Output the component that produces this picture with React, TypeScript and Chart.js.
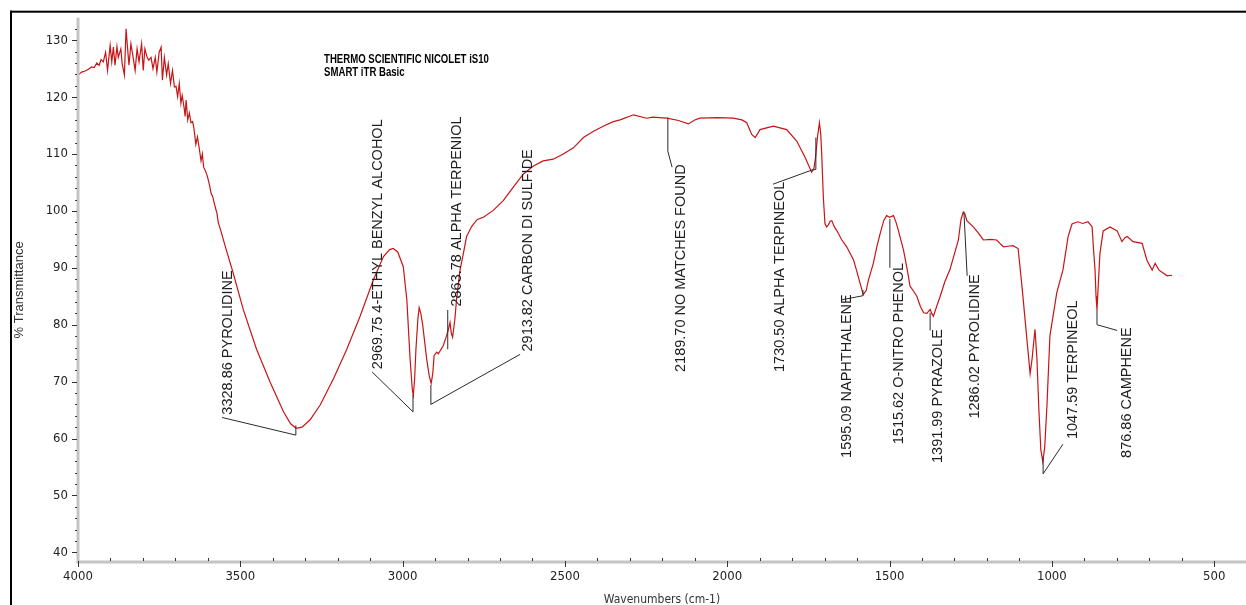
import React, { useEffect, useRef } from 'react';
import { Chart, registerables } from 'chart.js';

Chart.register(...registerables);

// ---- Spectrum data (wavenumber cm-1, % transmittance) ----
const wavenumbers = [
  4000, 3989, 3978, 3968, 3958, 3950, 3942, 3935, 3929, 3922,
  3915, 3909, 3901, 3896, 3891, 3886, 3880, 3876, 3868, 3864,
  3857, 3852, 3848, 3843, 3837, 3831, 3824, 3818, 3812, 3804,
  3799, 3794, 3787, 3782, 3775, 3769, 3762, 3757, 3750, 3744,
  3740, 3734, 3727, 3722, 3715, 3709, 3703, 3698, 3693, 3688,
  3683, 3679, 3673, 3670, 3667, 3662, 3657, 3652, 3647, 3643,
  3637, 3632, 3627, 3621, 3617, 3613, 3607, 3601, 3595, 3590,
  3585, 3580, 3572, 3568, 3560, 3545, 3522, 3491, 3450, 3408,
  3367, 3345, 3328, 3310, 3285, 3254, 3213, 3172, 3131, 3090,
  3059, 3040, 3029, 3015, 2998, 2987, 2977, 2970, 2967, 2963,
  2959, 2953, 2949, 2944, 2938, 2926, 2918, 2912, 2907, 2903,
  2895, 2890, 2875, 2865, 2859, 2854, 2850, 2846, 2839, 2834,
  2823, 2813, 2803, 2787, 2770, 2751, 2721, 2690, 2659, 2628,
  2597, 2567, 2536, 2505, 2474, 2443, 2412, 2382, 2351, 2330,
  2289, 2248, 2230, 2186, 2150, 2120, 2100, 2084, 2030, 1981,
  1955, 1940, 1925, 1914, 1899, 1858, 1817, 1786, 1760, 1740,
  1733, 1728, 1722, 1716, 1712, 1709, 1704, 1699, 1694, 1689,
  1683, 1678, 1670, 1663, 1647, 1632, 1611, 1600, 1591, 1581,
  1572, 1565, 1550, 1540, 1529, 1518, 1509, 1500, 1488, 1480,
  1473, 1457, 1445, 1437, 1425, 1416, 1405, 1395, 1385, 1375,
  1370, 1365, 1355, 1344, 1330, 1314, 1300, 1288, 1280, 1273,
  1268, 1262, 1242, 1225, 1211, 1190, 1170, 1160, 1149, 1135,
  1120, 1104, 1092, 1076, 1067, 1061, 1052, 1046, 1040, 1034,
  1028, 1022, 1015, 1006, 995, 985, 966, 950, 938, 920,
  905, 889, 880, 876, 872, 867, 864, 861, 858, 852,
  842, 821, 799, 784, 775, 768, 750, 722, 707, 691,
  682, 670, 657, 645, 630,
];

const transmittance = [
  123.9, 124.4, 124.6, 124.9, 125.3, 125.2, 126.0, 125.6, 126.6, 126.2,
  127.9, 124.7, 129.1, 126.2, 128.8, 125.6, 128.9, 127.0, 128.5, 125.9,
  123.9, 132.0, 129.1, 125.6, 129.4, 127.3, 124.7, 128.5, 126.2, 129.4,
  124.7, 128.5, 127.0, 126.5, 127.0, 125.0, 127.0, 124.4, 127.9, 128.8,
  123.0, 127.0, 123.9, 125.9, 122.4, 124.7, 121.8, 121.9, 120.1, 122.4,
  118.9, 120.3, 118.1, 116.6, 119.5, 116.0, 117.2, 115.5, 115.7, 114.6,
  111.7, 113.0, 111.2, 108.8, 110.0, 107.7, 107.0, 106.0, 104.6, 103.1,
  102.5, 101.3, 99.6, 98.0, 96.5, 93.5, 89.1, 82.7, 75.7, 69.9,
  64.7, 62.6, 61.8, 62.0, 63.3, 65.9, 70.5, 75.7, 81.5, 87.9,
  92.0, 93.2, 93.4, 92.8, 90.2, 84.4, 74.0, 68.5, 67.6, 70.5,
  75.7, 81.0, 83.0, 82.0, 79.9, 74.0, 71.0, 69.7, 71.5, 74.6,
  75.2, 74.9, 76.3, 78.0, 79.2, 80.4, 78.5, 77.8, 81.0, 84.4,
  89.7, 92.5, 95.5, 97.3, 98.5, 98.9, 100.1, 101.8, 104.2, 106.5,
  107.9, 108.8, 109.1, 110.0, 111.1, 112.9, 114.0, 114.9, 115.7, 116.0,
  116.9, 116.3, 116.5, 116.3, 115.9, 115.3, 116.0, 116.3, 116.4, 116.3,
  116.0, 115.5, 113.5, 112.9, 114.3, 114.9, 114.3, 112.3, 109.4, 106.8,
  107.5, 109.4, 113.0, 115.5, 113.5, 110.0, 102.4, 97.8, 97.2, 97.5,
  98.2, 98.3, 97.2, 96.6, 94.9, 93.7, 91.4, 89.2, 87.3, 85.3,
  86.0, 87.9, 90.8, 93.5, 96.0, 98.3, 99.2, 98.9, 99.2, 98.0,
  96.6, 93.1, 89.5, 86.8, 85.8, 85.0, 83.2, 82.1, 82.0, 82.7,
  82.0, 81.5, 83.2, 85.0, 87.5, 89.7, 92.5, 94.9, 98.5, 99.8,
  99.5, 98.3, 97.2, 96.0, 94.9, 95.0, 94.9, 94.3, 93.7, 93.8,
  93.9, 93.4, 86.7, 76.9, 71.4, 74.0, 79.2, 74.0, 65.0, 58.0,
  56.0, 58.5, 66.0, 78.1, 82.0, 85.6, 89.6, 95.5, 97.7, 98.1,
  97.8, 98.1, 97.5, 97.2, 93.5, 89.6, 85.0, 82.6, 86.0, 92.5,
  96.5, 97.2, 96.5, 94.6, 95.3, 95.5, 94.6, 94.3, 91.3, 89.6,
  90.8, 89.6, 89.1, 88.6, 88.7,
];

const xTickLabels = [4000, 3500, 3000, 2500, 2000, 1500, 1000, 500];
const yTickLabels = [40, 50, 60, 70, 80, 90, 100, 110, 120, 130];

// ---- Peak annotations ----
const peakLabels = [
  '3328.86 PYROLIDINE',
  '2969.75 4-ETHYL BENZYL ALCOHOL',
  '2863.78 ALPHA TERPENIOL',
  '2913.82 CARBON DI SULFIDE',
  '2189.70 NO MATCHES FOUND',
  '1730.50 ALPHA TERPINEOL',
  '1595.09 NAPHTHALENE',
  '1515.62 O-NITRO PHENOL',
  '1391.99 PYRAZOLE',
  '1286.02 PYROLIDINE',
  '1047.59 TERPINEOL',
  '876.86 CAMPHENE',
];
// label start point (wavenumber, %T)
const peakLabelX = [3538, 3076, 2833, 2614, 2144, 1837, 1631, 1472, 1351, 1237, 935, 769];
const peakLabelY = [64.2, 72.2, 83.2, 75.3, 71.7, 71.7, 56.6, 59.0, 55.7, 63.5, 59.9, 56.6];
// leader line vertices
const leaderX = [
  [3556, 3328.9, 3328.9],
  [3094, 2968, 2968],
  [2861, 2861],
  [2638, 2913, 2913],
  [2170, 2183, 2183],
  [1859, 1739, 1727, 1727],
  [1646, 1582, 1582],
  [1499, 1499],
  [1375, 1375],
  [1271, 1261],
  [966, 1027, 1027],
  [861, 861, 799],
];
const leaderY = [
  [63.7, 60.6, 62.3],
  [71.7, 64.7, 67.7],
  [82.6, 75.7],
  [74.8, 66.0, 69.4],
  [107.7, 110.5, 116.4],
  [104.7, 107.2, 107.3, 112.9],
  [84.4, 85.1, 86.1],
  [98.6, 90.0],
  [82.1, 79.0],
  [99.9, 88.6],
  [59.0, 53.8, 56.6],
  [82.6, 80.0, 79.0],
];

const headerLines = ['THERMO SCIENTIFIC NICOLET iS10', 'SMART iTR Basic'];
const headerX = 3242;
const headerY = [126.5, 124.3];

const NARROW = '"Liberation Sans Narrow", "Arial Narrow", "DejaVu Sans Condensed", "Liberation Sans", sans-serif';
const SANS = '"Liberation Sans", Arial, sans-serif';

const overlayPlugin = {
  id: 'overlay',
  afterDraw(chart: any) {
    const { ctx, chartArea } = chart;
    const xs = chart.scales.x;
    const ys = chart.scales.y;
    ctx.save();

    // frame
    ctx.fillStyle = '#000';
    ctx.fillRect(10, 10.7, 2, 600);
    ctx.fillRect(10, 10.7, 1240, 2);

    // axis lines
    ctx.strokeStyle = '#c4c4c4';
    ctx.lineWidth = 3;
    ctx.beginPath();
    ctx.moveTo(chartArea.left, chartArea.top);
    ctx.lineTo(chartArea.left, chartArea.bottom);
    ctx.lineTo(chartArea.right, chartArea.bottom);
    ctx.stroke();

    // ticks
    ctx.strokeStyle = '#333';
    ctx.lineWidth = 1;
    ctx.beginPath();
    for (let v = 40; v <= 132; v += 2) {
      const py = Math.round(ys.getPixelForValue(v)) + 0.5;
      const major = v % 10 === 0;
      ctx.moveTo(chartArea.left - (major ? 6 : 3), py);
      ctx.lineTo(chartArea.left - 1, py);
    }
    for (let v = 500; v <= 4000; v += 100) {
      const px = Math.round(xs.getPixelForValue(v)) + 0.5;
      const major = v % 500 === 0;
      if (major) {
        ctx.moveTo(px, chartArea.bottom - 1);
        ctx.lineTo(px, chartArea.bottom + 5);
      } else {
        ctx.moveTo(px, chartArea.bottom - 4);
        ctx.lineTo(px, chartArea.bottom - 1);
      }
    }
    ctx.stroke();

    // leader lines
    ctx.strokeStyle = '#2a2a2a';
    ctx.lineWidth = 1;
    for (let i = 0; i < leaderX.length; i++) {
      ctx.beginPath();
      for (let j = 0; j < leaderX[i].length; j++) {
        const px = xs.getPixelForValue(leaderX[i][j]);
        const py = ys.getPixelForValue(leaderY[i][j]);
        if (j === 0) ctx.moveTo(px, py);
        else ctx.lineTo(px, py);
      }
      ctx.stroke();
    }

    // peak labels
    ctx.fillStyle = '#1e1e1e';
    ctx.font = '14.5px ' + SANS;
    ctx.textAlign = 'left';
    ctx.textBaseline = 'middle';
    for (let i = 0; i < peakLabels.length; i++) {
      const px = xs.getPixelForValue(peakLabelX[i]);
      const py = ys.getPixelForValue(peakLabelY[i]);
      ctx.save();
      ctx.translate(px, py);
      ctx.rotate(-Math.PI / 2);
      ctx.fillText(peakLabels[i], 0, 0);
      ctx.restore();
    }

    // header
    ctx.fillStyle = '#000';
    ctx.font = 'bold 12px ' + SANS;
    for (let i = 0; i < headerLines.length; i++) {
      const px = xs.getPixelForValue(headerX);
      const py = ys.getPixelForValue(headerY[i]);
      ctx.save();
      ctx.translate(px, py);
      ctx.scale(0.8, 1);
      ctx.fillText(headerLines[i], 0, 0);
      ctx.restore();
    }

    ctx.restore();
  },
};

export default function App() {
  const canvasRef = useRef<HTMLCanvasElement | null>(null);

  useEffect(() => {
    if (!canvasRef.current) return;
    const points = wavenumbers.map((w, i) => ({ x: w, y: transmittance[i] }));
    const chart = new Chart(canvasRef.current, {
      type: 'line',
      data: {
        datasets: [
          {
            data: points,
            borderColor: '#c81414',
            borderWidth: 1.2,
            pointRadius: 0,
            tension: 0,
            fill: false,
          },
        ],
      },
      options: {
        animation: false,
        responsive: true,
        maintainAspectRatio: false,
        layout: { padding: { top: 12, left: 0, right: 0, bottom: 0 } },
        plugins: {
          legend: { display: false },
          tooltip: { enabled: false },
        },
        scales: {
          x: {
            type: 'linear',
            reverse: true,
            min: 402,
            max: 4000,
            offset: false,
            afterBuildTicks: (s: any) => {
              s.ticks = xTickLabels.map((v) => ({ value: v }));
            },
            afterFit: (s: any) => {
              s.height = 43;
            },
            grid: { display: false, drawTicks: false },
            border: { display: false },
            ticks: {
              autoSkip: false,
              maxRotation: 0,
              padding: 7,
              color: '#222',
              font: { family: NARROW, size: 13 },
              callback: (v: any) => String(v),
            },
            title: {
              display: true,
              text: 'Wavenumbers (cm-1)',
              color: '#333',
              font: { family: NARROW, size: 12 },
              padding: { top: 0, bottom: -2 },
            },
          },
          y: {
            type: 'linear',
            min: 38.3,
            max: 133.95,
            afterBuildTicks: (s: any) => {
              s.ticks = yTickLabels.map((v) => ({ value: v }));
            },
            afterFit: (s: any) => {
              s.width = 78;
            },
            grid: { display: false, drawTicks: false },
            border: { display: false },
            ticks: {
              autoSkip: false,
              padding: 10,
              color: '#222',
              font: { family: NARROW, size: 13 },
              callback: (v: any) => String(v),
            },
            title: {
              display: true,
              text: '% Transmittance',
              color: '#333',
              font: { family: SANS, size: 13 },
              padding: { top: 12, bottom: 0 },
            },
          },
        },
      },
      plugins: [overlayPlugin],
    });
    return () => chart.destroy();
  }, []);

  return (
    <div style={{ position: 'fixed', left: 0, top: 0, width: 1246, height: 605, background: '#fff' }}>
      <canvas ref={canvasRef} />
    </div>
  );
}
